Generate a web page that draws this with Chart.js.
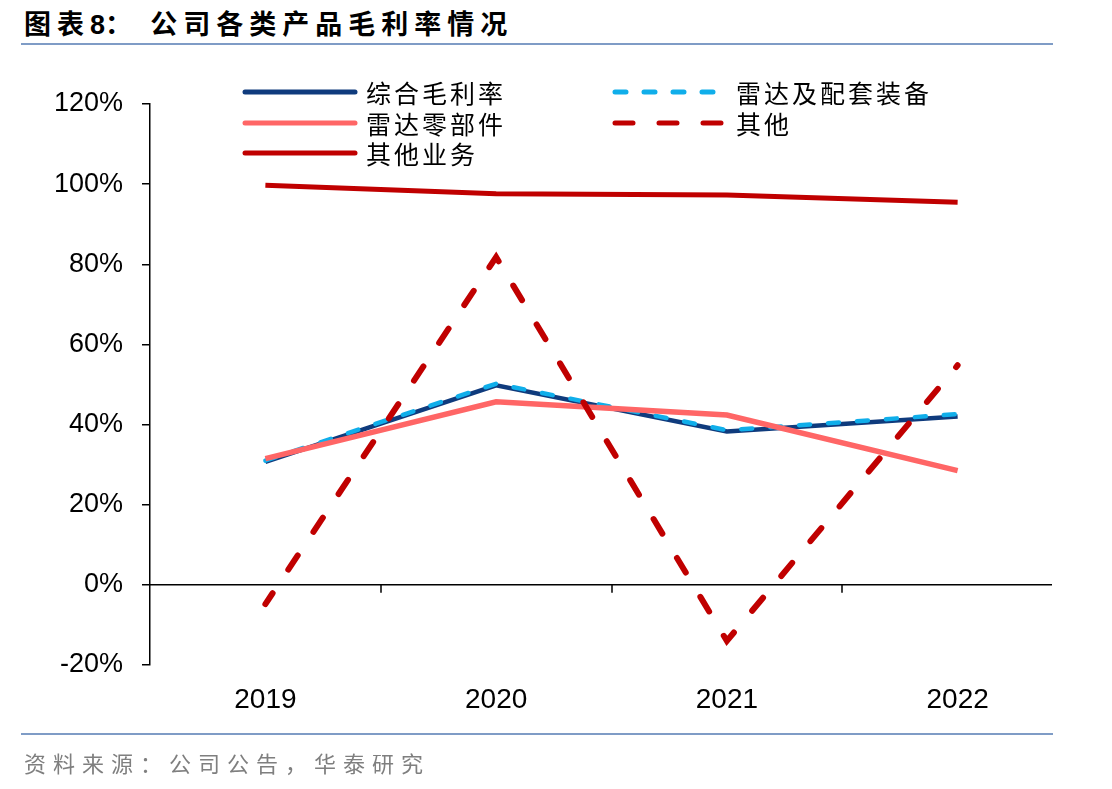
<!DOCTYPE html>
<html>
<head>
<meta charset="utf-8">
<script src="https://cdn.jsdelivr.net/npm/chart.js@4.4.0/dist/chart.umd.min.js"></script>
<style>
    html, body { margin: 0; padding: 0; background: #fff; }
    body { width: 1112px; height: 789px; position: relative; overflow: hidden; }
    #title {
        position: absolute; left: 24px; top: 3px;
        font-family: "Noto Sans CJK SC", sans-serif; font-weight: bold;
        font-size: 27px; letter-spacing: 6px; color: #000; white-space: nowrap;
    }
    #title .num { font-family: "Liberation Sans", Arial, sans-serif; letter-spacing: 0; }
    .rule { position: absolute; left: 21px; width: 1032px; height: 2px; background: #7f9cc6; }
    #source {
        position: absolute; left: 24px; top: 746px;
        font-family: "Noto Sans CJK SC", sans-serif; font-size: 22px;
        letter-spacing: 7px; color: #7f7f7f; white-space: nowrap;
    }
    #wrap { position: absolute; left: 0; top: 0; width: 1112px; height: 789px; }
</style>
</head>
<body>
<div id="title">图表<span class="num">8</span>：&nbsp;公司各类产品毛利率情况</div>
<div class="rule" style="top:43px"></div>
<div id="wrap"><canvas id="chart"></canvas></div>
<div class="rule" style="top:733px"></div>
<div id="source">资料来源：公司公告，华泰研究</div>

<script>
const years = ['2019', '2020', '2021', '2022'];
const seriesNames = ['综合毛利率', '雷达及配套装备', '雷达零部件', '其他', '其他业务'];
const zongheMaoli = [30.7, 49.8, 38.3, 42.0];
const leidaZhuangbei = [31.0, 50.2, 38.6, 42.6];
const leidaLingbujian = [31.5, 45.7, 42.4, 28.5];
const qita = [-4.8, 81.8, -14.0, 54.8];
const qitaYewu = [99.7, 97.6, 97.3, 95.5];
const yTicks = [-20, 0, 20, 40, 60, 80, 100, 120];

document.addEventListener('DOMContentLoaded', function () {
    drawChart();
});

const axisPlugin = {
    id: 'axisPlugin',
    afterDatasetsDraw(chart) {
        const ctx = chart.ctx;
        const area = chart.chartArea;
        const x = chart.scales.x;
        const y0 = chart.scales.y.getPixelForValue(0);
        ctx.save();
        ctx.strokeStyle = '#000';
        ctx.lineWidth = 1.5;
        ctx.beginPath();
        ctx.moveTo(area.left, y0);
        ctx.lineTo(area.right - 21, y0);
        for (let i = 1; i < years.length; i++) {
            const px = Math.round((x.getPixelForValue(i - 1) + x.getPixelForValue(i)) / 2);
            ctx.moveTo(px, y0);
            ctx.lineTo(px, y0 + 8);
        }
        ctx.stroke();
        ctx.restore();
    },
    afterDraw(chart) {
        // legend, two columns
        const ctx = chart.ctx;
        const slots = [
            { x: 245, y: 92 }, { x: 615, y: 92 },
            { x: 245, y: 123 }, { x: 615, y: 123 },
            { x: 245, y: 153 },
        ];
        ctx.save();
        ctx.font = '25px "Noto Sans CJK SC", sans-serif';
        ctx.letterSpacing = '3px';
        ctx.textBaseline = 'middle';
        ctx.fillStyle = '#000';
        chart.data.datasets.forEach((ds, k) => {
            const s = slots[k];
            ctx.strokeStyle = ds.borderColor;
            ctx.lineWidth = 5;
            ctx.lineCap = 'round';
            ctx.setLineDash(ds.legendDash || []);
            ctx.beginPath();
            ctx.moveTo(s.x, s.y);
            ctx.lineTo(s.x + 110, s.y);
            ctx.stroke();
            ctx.setLineDash([]);
            ctx.fillText(ds.label, s.x + 121, s.y + 1);
        });
        ctx.restore();
    },
};

function drawChart() {
    const ctx = document.getElementById('chart');
    new Chart(ctx, {
        type: 'line',
        data: {
            labels: years,
            datasets: [
                { label: seriesNames[0], data: zongheMaoli, borderColor: '#0f3b7d', borderWidth: 4.5, order: 5 },
                { label: seriesNames[1], data: leidaZhuangbei, borderColor: '#10aeea', borderWidth: 4.5, borderDash: [11, 18], legendDash: [11, 18], borderCapStyle: 'round', order: 4 },
                { label: seriesNames[2], data: leidaLingbujian, borderColor: '#ff6666', borderWidth: 5.5, order: 3 },
                { label: seriesNames[3], data: qita, borderColor: '#c00000', borderWidth: 6, borderDash: [17, 28.4], borderDashOffset: 4, legendDash: [18, 26], borderCapStyle: 'round', order: 1 },
                { label: seriesNames[4], data: qitaYewu, borderColor: '#c00000', borderWidth: 5, order: 2 },
            ],
        },
        options: {
            responsive: true,
            maintainAspectRatio: false,
            animation: false,
            events: [],
            layout: { padding: { left: 0, right: 39, top: 104, bottom: 0 } },
            elements: { point: { radius: 0 }, line: { tension: 0, fill: false } },
            plugins: { legend: { display: false }, tooltip: { enabled: false } },
            scales: {
                x: {
                    offset: true,
                    grid: { display: false, drawTicks: false },
                    border: { display: false },
                    ticks: {
                        padding: 18,
                        color: '#000',
                        font: { family: '"Liberation Sans", Arial, sans-serif', size: 28 },
                    },
                    afterFit(scale) { scale.height = 124; },
                },
                y: {
                    min: -20,
                    max: 120,
                    afterBuildTicks(scale) { scale.ticks = yTicks.map((v) => ({ value: v })); },
                    grid: { drawOnChartArea: false, drawTicks: true, tickLength: 8, color: '#000', lineWidth: 1.5 },
                    border: { display: true, color: '#000', width: 1.5 },
                    ticks: {
                        padding: 19,
                        color: '#000',
                        font: { family: '"Liberation Sans", Arial, sans-serif', size: 27 },
                        callback: (v) => v + '%',
                    },
                    afterFit(scale) { scale.width = 150; },
                },
            },
        },
        plugins: [axisPlugin],
    });
}
</script>
</body>
</html>
